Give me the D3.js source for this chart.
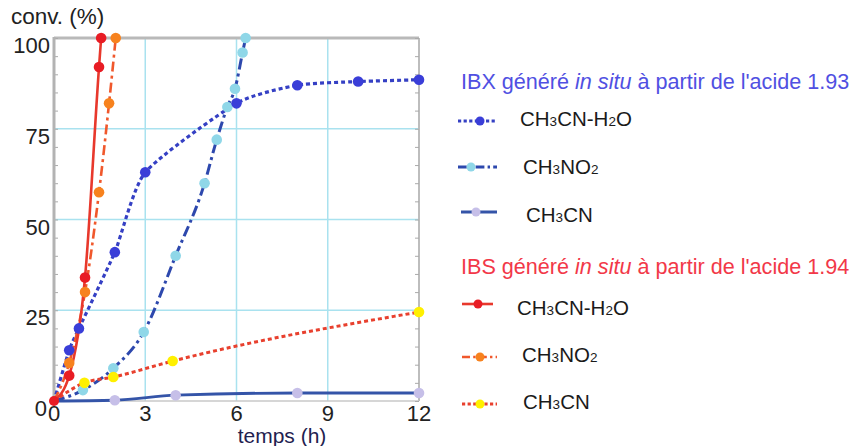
<!DOCTYPE html>
<html><head><meta charset="utf-8">
<script src="https://cdn.jsdelivr.net/npm/d3@7"></script>
<style>
html,body{margin:0;padding:0;background:#fff;}
svg{display:block;font-family:"Liberation Sans",Arial,sans-serif;}
</style></head>
<body><svg id="c" width="852" height="446"></svg>
<script>
// ---- data ----
const xTicks = [0, 3, 6, 9, 12];
const yTicks = [0, 25, 50, 75, 100];

// IBX (acide 1.93)
const ibxH2O_t = [0, 0.5, 0.82, 2, 3, 6, 8, 10, 12];
const ibxH2O_v = [0, 14, 20, 41, 63, 82, 87, 88, 88.5];
const ibxNO2_t = [0, 0.95, 1.95, 2.95, 4, 4.95, 5.35, 5.7, 5.95, 6.2, 6.3];
const ibxNO2_v = [0, 3, 9, 19, 40, 60, 72, 81, 86, 96, 100];
const ibxCN_t = [0, 2, 4, 8, 12];
const ibxCN_v = [0, 0.2, 1.6, 2.2, 2.2];

// IBS (acide 1.94)
const ibsH2O_t = [0, 0.5, 1.02, 1.48, 1.55];
const ibsH2O_v = [0, 7, 34, 92, 100];
const ibsNO2_t = [0, 0.5, 1.02, 1.48, 1.81, 2.03];
const ibsNO2_v = [0, 10.5, 30, 57.5, 82, 100];
const ibsCN_t = [0, 1, 1.95, 3.9, 12];
const ibsCN_v = [0, 5, 6.6, 11, 24.5];

const legendTitles = ["IBX généré |in situ| à partir de l'acide 1.93", "IBS généré |in situ| à partir de l'acide 1.94"];

// ---- layout ----
const svg = d3.select("#c");
const x = d3.scaleLinear().domain([0, 12]).range([54, 419]);
const y = d3.scaleLinear().domain([0, 100]).range([401, 38]);

const series = [
  {t: ibxNO2_t, v: ibxNO2_v, line: "#2d48ad", dash: "11,4,3,4", w: 3, mark: "#8fd7e8", curve: d3.curveMonotoneX, label: ["CH", "3", "NO", "2"], lx: 523, ly: 174, sw: [458, 497, 167, 471]},
  {t: ibxH2O_t, v: ibxH2O_v, line: "#3540c4", dash: "4,3", w: 3.2, mark: "#3a3ed8", curve: d3.curveCardinal.tension(0.4), label: ["CH", "3", "CN-H", "2", "O"], lx: 520, ly: 126, sw: [458, 497, 121, 480]},
  {t: ibxCN_t, v: ibxCN_v, line: "#3454a8", dash: null, w: 2.8, mark: "#c6bfe8", curve: d3.curveMonotoneX, label: ["CH", "3", "CN"], lx: 526, ly: 222, sw: [461, 497, 212, 476]},
  {t: ibsCN_t, v: ibsCN_v, line: "#e8402e", dash: "4,3", w: 3, mark: "#fff000", curve: d3.curveMonotoneX, label: ["CH", "3", "CN"], lx: 523, ly: 409, sw: [462, 497, 404, 480]},
  {t: ibsNO2_t, v: ibsNO2_v, line: "#f0582c", dash: "10,4,3,4", w: 2.6, mark: "#f7821e", curve: d3.curveMonotoneX, label: ["CH", "3", "NO", "2"], lx: 522, ly: 362, sw: [462, 497, 357, 480]},
  {t: ibsH2O_t, v: ibsH2O_v, line: "#e8382c", dash: null, w: 2.6, mark: "#e81c24", curve: d3.curveMonotoneX, label: ["CH", "3", "CN-H", "2", "O"], lx: 517, ly: 315, sw: [462, 493, 304, 478]}
];

// grid
const g = svg.append("g");
g.selectAll(".gx").data([3, 6, 9]).join("line")
  .attr("x1", d => x(d)).attr("x2", d => x(d)).attr("y1", y(100)).attr("y2", y(0))
  .attr("stroke", "#a9e2ef").attr("stroke-width", 1.5);
g.selectAll(".gy").data([25, 50, 75]).join("line")
  .attr("x1", x(0)).attr("x2", x(12)).attr("y1", d => y(d)).attr("y2", d => y(d))
  .attr("stroke", "#a9e2ef").attr("stroke-width", 1.5);

// frame
svg.append("line").attr("x1", x(0)).attr("x2", x(12)).attr("y1", y(100)).attr("y2", y(100)).attr("stroke", "#b9b9b9").attr("stroke-width", 3);
svg.append("line").attr("x1", x(12)).attr("x2", x(12)).attr("y1", y(100)).attr("y2", y(0)).attr("stroke", "#bdbdbd").attr("stroke-width", 2);
svg.append("line").attr("x1", x(0)).attr("x2", x(12)).attr("y1", y(0)).attr("y2", y(0)).attr("stroke", "#c8c8c8").attr("stroke-width", 1.5);

// minor ticks via axes
const minor = d3.range(0, 101, 5);
svg.append("g").attr("transform", `translate(${x(0)},0)`)
  .call(d3.axisRight(y).tickValues(minor).tickSize(4).tickFormat(""))
  .call(s => s.select(".domain").remove())
  .call(s => s.selectAll("line").attr("stroke", "#aaa").attr("stroke-width", 1));
svg.append("g").attr("transform", `translate(${x(12)},0)`)
  .call(d3.axisLeft(y).tickValues(minor).tickSize(4).tickFormat(""))
  .call(s => s.select(".domain").remove())
  .call(s => s.selectAll("line").attr("stroke", "#aaa").attr("stroke-width", 1));

// left axis line
svg.append("line").attr("x1", x(0)).attr("x2", x(0)).attr("y1", y(100) - 1).attr("y2", y(0)).attr("stroke", "#b3b3b3").attr("stroke-width", 3);

// y tick labels
svg.append("g").selectAll("text").data(yTicks).join("text")
  .attr("x", d => d === 0 ? 47 : 50).attr("y", d => y(d) + 15)
  .attr("text-anchor", "end").attr("font-size", 22).attr("fill", "#222")
  .text(d => d);
// x tick labels
svg.append("g").selectAll("text").data(xTicks).join("text")
  .attr("x", d => x(d)).attr("y", 421)
  .attr("text-anchor", "middle").attr("font-size", 22).attr("fill", "#222")
  .text(d => d);

svg.append("text").attr("x", 11).attr("y", 24).attr("font-size", 22.5).attr("fill", "#222").text("conv. (%)");
svg.append("text").attr("x", 282).attr("y", 443).attr("text-anchor", "middle").attr("font-size", 21).attr("fill", "#1f2250").text("temps (h)");

// lines
series.forEach(s => {
  const lineGen = d3.line().x(d => x(d[0])).y(d => y(d[1])).curve(s.curve);
  const pts = s.t.map((t, i) => [t, s.v[i]]);
  svg.append("path").attr("d", lineGen(pts)).attr("fill", "none")
    .attr("stroke", s.line).attr("stroke-width", s.w)
    .attr("stroke-dasharray", s.dash).attr("stroke-linejoin", "round");
});
series.forEach(s => {
  const pts = s.t.map((t, i) => [t, s.v[i]]);
  svg.append("g").selectAll("circle").data(pts.slice(1)).join("circle")
    .attr("cx", d => x(d[0])).attr("cy", d => y(d[1])).attr("r", 5.3)
    .attr("fill", s.mark);
});
// origin marker
svg.append("circle").attr("cx", x(0)).attr("cy", y(0)).attr("r", 5).attr("fill", "#e81c24");

// legend
function title(str, yy, color) {
  const parts = str.split("|");
  const t = svg.append("text").attr("x", 461).attr("y", yy).attr("font-size", 21.6).attr("fill", color);
  parts.forEach((p, i) => t.append("tspan").attr("font-style", i === 1 ? "italic" : "normal").text(p));
}
title(legendTitles[0], 89, "#5050e2");
title(legendTitles[1], 274, "#f23848");

series.forEach(s => {
  const [x1, x2, yy, mx] = s.sw;
  svg.append("line").attr("x1", x1).attr("x2", x2).attr("y1", yy).attr("y2", yy)
    .attr("stroke", s.line).attr("stroke-width", s.w)
    .attr("stroke-dasharray", s.dash ? s.dash.split(",").map(v => v * 0.8).join(",") : null);
  svg.append("circle").attr("cx", mx).attr("cy", yy).attr("r", 4.5).attr("fill", s.mark);
  const t = svg.append("text").attr("x", s.lx).attr("y", s.ly).attr("font-size", 20.5).attr("fill", "#1a1a1a");
  s.label.forEach((p, i) => {
    const sub = /^[0-9]$/.test(p);
    t.append("tspan").attr("font-size", sub ? 13.5 : 20.5).text(p);
  });
});
</script></body></html>
